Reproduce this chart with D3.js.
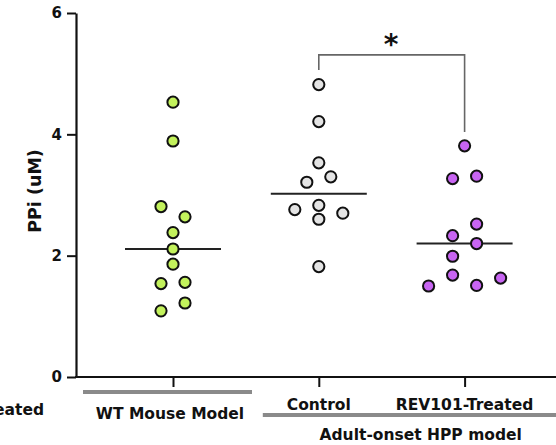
<!DOCTYPE html>
<html>
<head>
<meta charset="utf-8">
<script src="https://cdn.jsdelivr.net/npm/d3@7"></script>
<style>
  html, body { margin: 0; padding: 0; background: #fff; }
  svg { display: block; font-family: "DejaVu Sans", Verdana, sans-serif; font-weight: bold; }
</style>
</head>
<body>
<svg id="chart" width="556" height="445"></svg>
<script>
// Plasma PPi per animal, one list per group
const categories = ["WT Mouse Model", "Control", "REV101-Treated"];
const wtValues = [4.53, 3.89, 2.81, 2.64, 2.38, 2.11, 1.86, 1.54, 1.56, 1.09, 1.22];
const controlValues = [4.82, 4.21, 3.53, 3.21, 3.30, 2.83, 2.60, 2.70, 2.76, 1.82];
const rev101Values = [3.81, 3.27, 3.31, 1.99, 2.20, 2.33, 2.52, 1.68, 1.51, 1.50, 1.63];
const seriesValues = [wtValues, controlValues, rev101Values];
const fills = ["#c3f25c", "#e4e4e4", "#c865f2"];
const yTicks = [0, 2, 4, 6];
const yTitle = "PPi (uM)";
const groupLabel = "Adult-onset HPP model";
const sigLabel = "*";

const svg = d3.select("#chart");

const y = d3.scaleLinear().domain([0, 6]).range([377, 13]);
const x = d3.scalePoint().domain(categories).range([173, 464.6]);

const axisX0 = 76;
const dotR = 5.6;
const lane = 24;      // horizontal spacing between stacked dots
const minGap = 13.2;  // vertical clearance needed for two dots in one lane

// Swarm layout: each dot takes the nearest free lane, then every run of
// touching dots is re-centred on the column.
function swarm(values) {
  const pts = values.map(v => ({ v, py: y(v), off: 0 }));
  const placed = [];
  const order = [0, 1, -1, 2, -2, 3, -3];
  pts.forEach(p => {
    for (const k of order) {
      const o = k * lane;
      const hit = placed.some(q => q.off === o && Math.abs(q.py - p.py) < minGap);
      if (!hit) { p.off = o; break; }
    }
    placed.push(p);
  });
  const sorted = pts.slice().sort((a, b) => a.py - b.py);
  let run = [sorted[0]];
  const flush = () => {
    const lo = d3.min(run, d => d.off), hi = d3.max(run, d => d.off);
    const shift = (lo + hi) / 2;
    run.forEach(d => { d.off -= shift; });
  };
  for (let i = 1; i < sorted.length; i++) {
    if (sorted[i].py - sorted[i - 1].py < minGap) run.push(sorted[i]);
    else { flush(); run = [sorted[i]]; }
  }
  flush();
  return pts;
}

// Y axis
const yAxis = d3.axisLeft(y).tickValues(yTicks).tickFormat(d3.format("d"))
  .tickSize(9).tickSizeOuter(0).tickPadding(5);
const gy = svg.append("g").attr("transform", `translate(${axisX0},0)`).call(yAxis);
gy.attr("font-size", null).attr("font-family", null);
gy.select(".domain").attr("stroke", "#111").attr("stroke-width", 2.2);
gy.selectAll(".tick line").attr("stroke", "#111").attr("stroke-width", 2);
gy.selectAll(".tick text").style("font-size", "15px").style("font-weight", "bold")
  .attr("fill", "#111");

svg.append("text")
  .attr("transform", `translate(41,${(y(0) + y(6)) / 2 - 4}) rotate(-90)`)
  .attr("text-anchor", "middle")
  .style("font-size", "17.5px")
  .attr("fill", "#111")
  .text(yTitle);

// X axis: baseline across the plot, ticks under each column
svg.append("line")
  .attr("x1", axisX0 - 1).attr("x2", 600)
  .attr("y1", y(0)).attr("y2", y(0))
  .attr("stroke", "#111").attr("stroke-width", 2.2);
const xAxis = d3.axisBottom(x).tickSize(10).tickSizeOuter(0).tickFormat("");
const gx = svg.append("g").attr("transform", `translate(0,${y(0)})`).call(xAxis);
gx.select(".domain").remove();
gx.selectAll(".tick line").attr("stroke", "#111").attr("stroke-width", 2);

// Column and group labels
const labelSize = "15.5px";
svg.append("line")
  .attr("x1", x(categories[0]) - 90).attr("x2", x(categories[0]) + 79)
  .attr("y1", 392).attr("y2", 392)
  .attr("stroke", "#8a8a8a").attr("stroke-width", 4);
svg.append("text")
  .attr("x", x(categories[0]) - 3).attr("y", 419)
  .attr("text-anchor", "middle").style("font-size", labelSize).attr("fill", "#111")
  .text(categories[0]);
categories.slice(1).forEach(c => {
  svg.append("text")
    .attr("x", x(c)).attr("y", 410)
    .attr("text-anchor", "middle").style("font-size", labelSize).attr("fill", "#111")
    .text(c);
});
svg.append("line")
  .attr("x1", x(categories[1]) - 56).attr("x2", 600)
  .attr("y1", 415).attr("y2", 415)
  .attr("stroke", "#8a8a8a").attr("stroke-width", 4);
svg.append("text")
  .attr("x", (x(categories[1]) + x(categories[2])) / 2 + 29).attr("y", 440)
  .attr("text-anchor", "middle").style("font-size", labelSize).attr("fill", "#111")
  .text(groupLabel);
// label of the neighbouring panel, cut by the left edge
svg.append("text")
  .attr("x", 44).attr("y", 415)
  .attr("text-anchor", "end").style("font-size", labelSize).attr("fill", "#111")
  .text(categories[2]);

// Median lines
categories.forEach((c, i) => {
  const m = d3.median(seriesValues[i]);
  svg.append("line")
    .attr("x1", x(c) - 48).attr("x2", x(c) + 48)
    .attr("y1", y(m)).attr("y2", y(m))
    .attr("stroke", "#222").attr("stroke-width", 2);
});

// Dots
categories.forEach((c, i) => {
  const pts = swarm(seriesValues[i]);
  svg.append("g").selectAll("circle").data(pts).join("circle")
    .attr("cx", d => x(c) + d.off)
    .attr("cy", d => d.py)
    .attr("r", dotR)
    .attr("fill", fills[i])
    .attr("stroke", "#111")
    .attr("stroke-width", 2);
});

// Significance bracket Control vs REV101-Treated
const bTop = 5.31, bLeft = 5.06, bRight = 4.04;
svg.append("path")
  .attr("d", `M${x(categories[1])},${y(bLeft)}V${y(bTop)}H${x(categories[2])}V${y(bRight)}`)
  .attr("fill", "none").attr("stroke", "#666").attr("stroke-width", 1.6);
svg.append("text")
  .attr("x", (x(categories[1]) + x(categories[2])) / 2 - 0.5).attr("y", 54)
  .attr("text-anchor", "middle").style("font-size", "28px").attr("fill", "#111")
  .text(sigLabel);
</script>
</body>
</html>
